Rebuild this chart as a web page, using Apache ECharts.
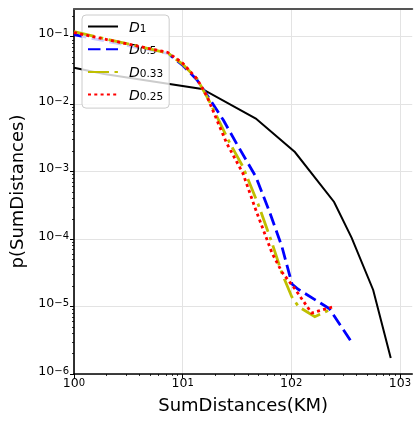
<!DOCTYPE html>
<html><head><meta charset="utf-8">
<script src="https://cdn.jsdelivr.net/npm/echarts@6/dist/echarts.min.js"></script>
<style>html,body{margin:0;padding:0;background:#fff}#c{width:414px;height:422px}</style>
</head><body><div id="c"></div>
<script>
// ---- data (log-log) ----
const seriesNames = ['D1', 'D0.5', 'D0.33', 'D0.25'];
const d1X = [1, 1.9, 15.1, 47.2, 108, 248, 360, 568, 824];
const d1Y = [0.0347, 0.0280, 0.0168, 0.00612, 0.00195, 0.000355, 0.000104, 1.76e-5, 1.73e-6];
const d05X = [1, 7.31, 9.98, 13.6, 16.1, 23.7, 31.2, 47.2, 62.2, 82.1, 101.6, 115, 223.5, 364];
const d05Y = [0.107, 0.0564, 0.0380, 0.0228, 0.0151, 0.00582, 0.00265, 8.41e-4, 2.70e-4, 7.71e-5, 2.16e-5, 1.82e-5, 9.35e-6, 2.88e-6];
const d033X = [1, 7.31, 9.98, 13.6, 17.4, 27.2, 35.9, 50.6, 66.7, 82.1, 101, 116.8, 164.8, 241.5];
const d033Y = [0.1186, 0.0573, 0.0393, 0.0236, 0.01153, 0.00265, 0.00118, 3.02e-4, 8.65e-5, 3.11e-5, 1.40e-5, 9.95e-6, 7.06e-6, 9.42e-6];
const d025X = [1, 7.31, 9.98, 13.6, 16.8, 25.4, 35.9, 47.2, 66.7, 82.1, 108.2, 153.9, 240.3];
const d025Y = [0.115, 0.0584, 0.0407, 0.0236, 0.0129, 0.00265, 9.44e-4, 2.70e-4, 6.15e-5, 3.25e-5, 1.82e-5, 8.02e-6, 9.84e-6];
const xMajorTicks = [1, 10, 100, 1000];
const yMajorTicks = [1e-6, 1e-5, 1e-4, 1e-3, 1e-2, 1e-1];
const xMinorTicks = [2,3,4,5,6,7,8,9,20,30,40,50,60,70,80,90,200,300,400,500,600,700,800,900];
const yMinorTicks = [2e-6,3e-6,4e-6,5e-6,6e-6,7e-6,8e-6,9e-6,2e-5,3e-5,4e-5,5e-5,6e-5,7e-5,8e-5,9e-5,
  2e-4,3e-4,4e-4,5e-4,6e-4,7e-4,8e-4,9e-4,2e-3,3e-3,4e-3,5e-3,6e-3,7e-3,8e-3,9e-3,
  2e-2,3e-2,4e-2,5e-2,6e-2,7e-2,8e-2,9e-2,2e-1];
const xMin = 1, xMax = 1300, yMin = 1e-6, yMax = 0.2575;

const FF = 'DejaVu Sans';
function zip(a, b) { return a.map((v, i) => [v, b[i]]); }
function sci(v) {
  const l = Math.log10(v), e = Math.round(l);
  if (Math.abs(l - e) > 1e-6) return '';
  return '{b|10}{s|' + (e < 0 ? '\u2212' + (-e) : e) + '}';
}
const tickRich = {
  b: { fontFamily: FF, fontSize: 12.5, lineHeight: 12, padding: [4, 0, 0, 0], verticalAlign: 'bottom', color: '#000' },
  s: { fontFamily: FF, fontSize: 10, lineHeight: 9, verticalAlign: 'top', color: '#000' }
};
const chart = echarts.init(document.getElementById('c'), null, { renderer: 'canvas' });
const colors = ['#000000', '#0000ff', '#bfbf00', '#ff0000'];
const dashes = ['solid', [12.5, 5.5], [21, 5.5, 3.4, 5.5], [3, 3.3]];
const widths = [2, 2.8, 2.8, 2.8];
const xs = [d1X, d05X, d033X, d025X], ys = [d1Y, d05Y, d033Y, d025Y];

chart.setOption({
  animation: false,
  backgroundColor: '#fff',
  grid: { left: 74, top: 9, right: -6, bottom: 48, containLabel: false },
  legend: {
    left: 82, top: 15, orient: 'vertical',
    data: seriesNames,
    itemWidth: 30, itemHeight: 14, itemGap: 5.7,
    padding: [3, 6, 5, 5],
    backgroundColor: 'rgba(255,255,255,0.8)', borderColor: '#cccccc', borderWidth: 1, borderRadius: 4,
    selectedMode: false,
    itemStyle: { opacity: 0, color: 'rgba(0,0,0,0)', borderWidth: 0 },
    formatter: n => '{d|D}{s|' + n.slice(1) + '}',
    textStyle: {
      rich: {
        d: { fontFamily: FF, fontStyle: 'italic', fontSize: 14, lineHeight: 16, padding: [3, 0, 0, 6], color: '#000' },
        s: { fontFamily: FF, fontSize: 10.5, lineHeight: 10, verticalAlign: 'bottom', color: '#000' }
      }
    }
  },
  xAxis: [
    { type: 'log', logBase: 10, min: xMin, max: xMax, position: 'bottom',
      name: 'SumDistances(KM)', nameLocation: 'middle', nameGap: 23,
      nameTextStyle: { fontFamily: FF, fontSize: 18, color: '#000' },
      axisLine: { show: true, lineStyle: { color: '#000', width: 1.6 } },
      axisTick: { show: true, length: 4, customValues: xMajorTicks, lineStyle: { color: '#000', width: 1 } },
      axisLabel: { margin: 4, formatter: sci, rich: tickRich, customValues: xMajorTicks },
      splitLine: { show: true, lineStyle: { color: '#e3e3e3', width: 1 } }
    },
    { type: 'log', logBase: 10, min: xMin, max: xMax, position: 'bottom',
      axisLine: { show: false },
      axisTick: { show: true, length: 2, customValues: xMinorTicks, lineStyle: { color: '#000', width: 0.8 } },
      axisLabel: { show: false }, splitLine: { show: false }
    },
    { type: 'log', logBase: 10, min: xMin, max: xMax, position: 'top',
      axisLine: { show: true, lineStyle: { color: '#555', width: 2 } },
      axisTick: { show: false }, axisLabel: { show: false }, splitLine: { show: false }
    }
  ],
  yAxis: [
    { type: 'log', logBase: 10, min: yMin, max: yMax, position: 'left',
      name: 'p(SumDistances)', nameLocation: 'middle', nameGap: 34,
      nameTextStyle: { fontFamily: FF, fontSize: 18, color: '#000' },
      axisLine: { show: true, lineStyle: { color: '#000', width: 1.6 } },
      axisTick: { show: true, length: 4, customValues: yMajorTicks, lineStyle: { color: '#000', width: 1 } },
      axisLabel: { margin: 5, formatter: sci, rich: tickRich, padding: [0, 0, 4, 0], customValues: yMajorTicks },
      splitLine: { show: true, lineStyle: { color: '#e3e3e3', width: 1 } }
    },
    { type: 'log', logBase: 10, min: yMin, max: yMax, position: 'left',
      axisLine: { show: false },
      axisTick: { show: true, length: 2, customValues: yMinorTicks, lineStyle: { color: '#000', width: 0.8 } },
      axisLabel: { show: false }, splitLine: { show: false }
    }
  ],
  series: seriesNames.map((n, i) => ({
    name: n, type: 'line', xAxisIndex: 0, yAxisIndex: 0,
    symbol: 'none', showSymbol: false, clip: true, z: 2 + i,
    data: zip(xs[i], ys[i]),
    itemStyle: { color: colors[i] },
    lineStyle: { color: colors[i], width: widths[i], type: dashes[i], cap: 'butt', join: 'miter' }
  }))
});
</script></body></html>
